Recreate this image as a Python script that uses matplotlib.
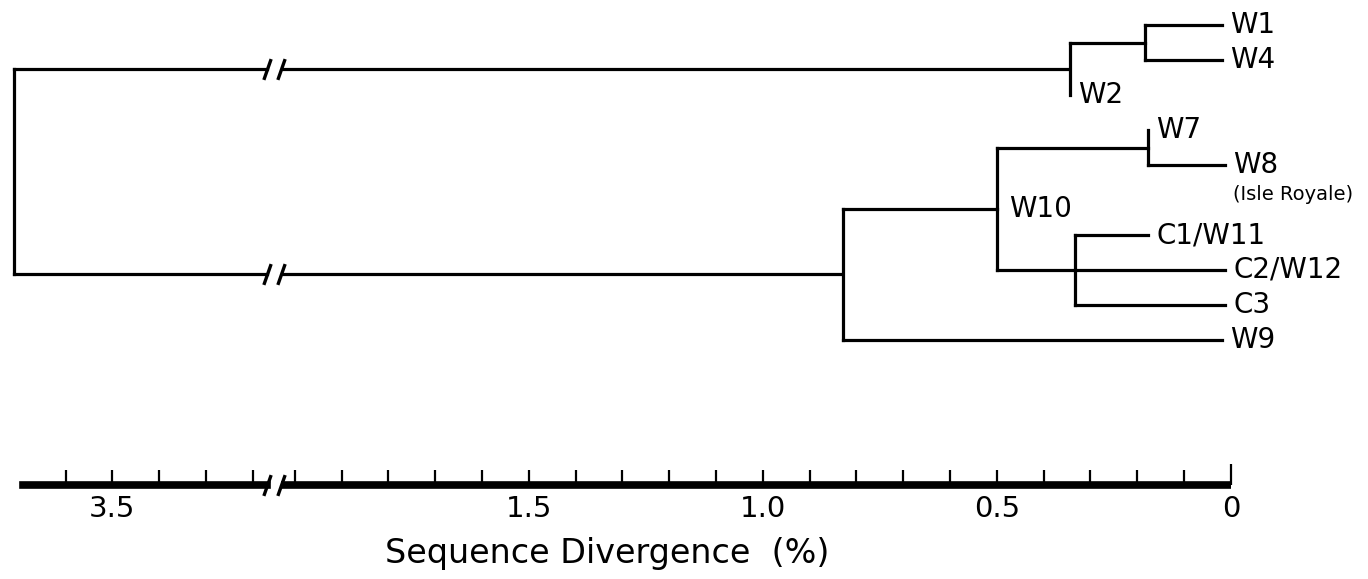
import numpy as np
import matplotlib
matplotlib.use("Agg")
from matplotlib import pyplot as plt
from matplotlib.path import Path

plt.rcParams.update({'font.family': 'DejaVu Sans'})

# leaves, top to bottom, and the divergence (%) where each branch tip ends
LEAVES = ["W1", "W4", "W2", "W7", "W8", "C1/W11", "C2/W12", "C3", "W9"]
LEAF_TIPS = [0.02, 0.02, 0.344, 0.177, 0.013, 0.177, 0.013, 0.013, 0.02]
LEAF_NOTES = {"W8": "(Isle Royale)"}

# internal nodes: name, divergence (%) of the node, children
CLADES = ["w1w4", "west", "w7w8", "c", "w10", "east", "root"]
CLADE_HEIGHTS = [0.184, 0.344, 0.177, 0.333, 0.50, 0.829, 3.71]
CLADE_CHILDREN = [
    ["W1", "W4"],
    ["w1w4", "W2"],
    ["W7", "W8"],
    ["C1/W11", "C2/W12", "C3"],
    ["w7w8", "c"],
    ["w10", "W9"],
    ["west", "east"],
]
NODE_LABELS = {"w10": "W10"}

# scale bar
MAJOR_TICKS = [0, 0.5, 1.0, 1.5, 3.5]
MAJOR_LABELS = ["0", "0.5", "1.0", "1.5", "3.5"]
MINOR_TICKS = [0.1, 0.2, 0.3, 0.4, 0.6, 0.7, 0.8, 0.9, 1.1, 1.2, 1.3, 1.4,
               1.6, 1.7, 1.8, 1.9, 2.0, 3.2, 3.3, 3.4, 3.6]
BAR_RANGE = (0, 3.69)

# broken axis: everything between GAP_LO and GAP_HI is cut out
GAP_LO = 2.05
GAP_HI = 3.16
CUT_R = 2.03
CUT_L = 3.17

TOP = 25
STEP = 35
BAR_Y = 485
LW = 2.3
FONT = 20


def fwd(x):
    x = np.asarray(x, dtype=float)
    return np.where(x <= GAP_LO, x, np.where(x < GAP_HI, GAP_LO, x - (GAP_HI - GAP_LO)))


def inv(y):
    y = np.asarray(y, dtype=float)
    return np.where(y <= GAP_LO, y, y + (GAP_HI - GAP_LO))


SLASH = Path([(-0.35, -1.0), (0.35, 1.0)], [Path.MOVETO, Path.LINETO])


def hline(ax, x0, x1, y, lw=LW):
    lo, hi = min(x0, x1), max(x0, x1)
    if lo < GAP_LO and hi > GAP_HI:
        ax.plot([lo, CUT_R], [y, y], color='black', lw=lw, solid_capstyle='butt')
        ax.plot([CUT_L, hi], [y, y], color='black', lw=lw, solid_capstyle='projecting')
        ax.plot([CUT_R, CUT_L], [y, y], ls='none', marker=SLASH, ms=15,
                mew=2.4, mec='black', mfc='none')
    else:
        ax.plot([lo, hi], [y, y], color='black', lw=lw, solid_capstyle='projecting')


fig = plt.figure(figsize=(13.68, 5.79), dpi=100)
ax = fig.add_axes([0, 0, 1, 1])
ax.set_xscale('function', functions=(fwd, inv))
ax.set_xlim(3.74, -0.293)
ax.set_ylim(579, 0)

# vertical layout of the leaves (an extra slot below a leaf with a note)
ys = {}
tips = {}
slot = 0
for name, tip in zip(LEAVES, LEAF_TIPS):
    ys[name] = TOP + slot * STEP
    tips[name] = tip
    slot += 2 if name in LEAF_NOTES else 1

heights = dict(zip(CLADES, CLADE_HEIGHTS))
children = dict(zip(CLADES, CLADE_CHILDREN))


def node_y(name):
    if name in ys:
        return ys[name]
    cy = [node_y(c) for c in children[name]]
    ys[name] = (min(cy) + max(cy)) / 2
    return ys[name]


def draw(name, parent_x):
    y = node_y(name)
    if name in tips:
        tip = tips[name]
        if tip < parent_x:
            hline(ax, parent_x, tip, y)
        ax.annotate(name, (tip, y), xytext=(6, 0), textcoords='offset points',
                    ha='left', va='center', fontsize=FONT)
        if name in LEAF_NOTES:
            ax.annotate(LEAF_NOTES[name], (tip, y), xytext=(6, -21),
                        textcoords='offset points', ha='left', va='center', fontsize=14)
        return
    x = heights[name]
    if parent_x is not None:
        hline(ax, parent_x, x, y)
    cy = [node_y(c) for c in children[name]]
    ax.plot([x, x], [min(cy), max(cy)], color='black', lw=LW, solid_capstyle='projecting')
    if name in NODE_LABELS:
        ax.annotate(NODE_LABELS[name], (x, y), xytext=(9, 0), textcoords='offset points',
                    ha='left', va='center', fontsize=FONT)
    for c in children[name]:
        draw(c, x)


draw("root", None)

# scale bar, drawn on the bottom axis
hline(ax, BAR_RANGE[0], BAR_RANGE[1], BAR_Y, lw=5.5)
ax.spines['bottom'].set_position(('data', BAR_Y))
ax.spines['bottom'].set_color('none')
for s in ['top', 'left', 'right']:
    ax.spines[s].set_visible(False)
ax.set_yticks([])
ax.set_xticks(MAJOR_TICKS, MAJOR_LABELS)
ax.set_xticks(MINOR_TICKS, minor=True)
ax.tick_params(axis='x', which='both', direction='in', length=11, width=1.6,
               color='black', labelsize=21, pad=7)
ax.xaxis.get_major_ticks()[0].tick1line.set_markersize(15)
ax.patch.set_alpha(0)

fig.text(607 / 1368, 1 - 553 / 579, "Sequence Divergence  (%)",
         ha='center', va='center', fontsize=24)

plt.savefig("out.png", dpi=100)
